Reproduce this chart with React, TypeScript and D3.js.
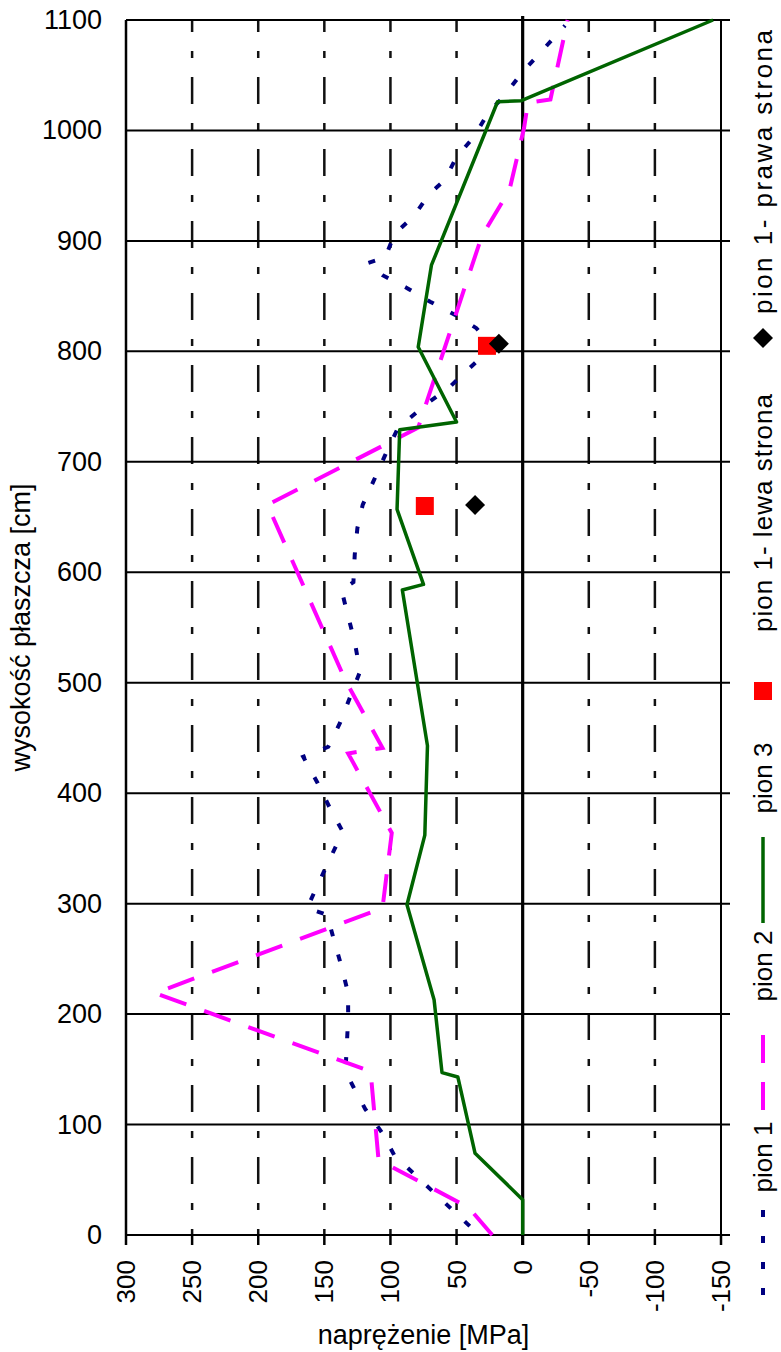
import React from 'react';
import * as d3 from 'd3';

// pion 1 (navy dotted)
const pion1Stress = [40, 97, 106, 119, 128, 134, 133, 132, 132, 137, 142, 148, 163, 155, 146, 136, 146, 155, 166, 147, 138, 123, 127, 132, 137, 128, 127, 125, 121, 113, 104, 95, 87, 72, 55, 40, 23, 35, 51, 70, 87, 106, 117, 104, 97, 82, 71, 59, 50, 37, 26, 15, 0, -13, -32];
const pion1Height = [8, 72, 92, 114, 134, 148, 172, 196, 219, 243, 264, 290, 296, 317, 340, 365, 387, 409, 433, 442, 464, 510, 537, 560, 584, 591, 616, 640, 661, 682, 706, 729, 738, 753, 768, 785, 804, 821, 833, 845, 857, 869, 880, 885, 906, 923, 942, 955, 976, 994, 1016, 1030, 1053, 1070, 1095];

// pion 2 (magenta long dash)
const pion2Stress = [23, 41, 109, 115, 278, 106, 99, 132, 106, 134, 193, 79, 31, 10, -1, -4, -21, -34];
const pion2Height = [0, 25, 68, 148, 219, 296, 364, 436, 441, 502, 661, 731, 904, 946, 1002, 1025, 1028, 1100];

// pion 3 (green solid)
const pion3Stress = [0, 0, 36, 49, 61, 67, 87.5, 74, 72, 91, 75, 95, 93, 50, 79, 69, 19, 1, -144];
const pion3Height = [0, 32, 74, 143, 147, 213, 299, 362, 443, 584, 589, 657, 729, 736, 804, 878, 1026, 1027, 1100];

// pion 1 - lewa strona (red squares)
const lewaStress = [74, 27];
const lewaHeight = [660, 805];

// pion 1 - prawa strona (black diamonds)
const prawaStress = [36, 18];
const prawaHeight = [661, 807];

const xTicks = [300, 250, 200, 150, 100, 50, 0, -50, -100, -150];
const yTicks = [0, 100, 200, 300, 400, 500, 600, 700, 800, 900, 1000, 1100];

const W = 781;
const H = 1352;
const L = 126, R = 721, T = 20, B = 1235;
const FONT = 'Liberation Sans, Arial, sans-serif';

const zip = (a: number[], b: number[]) => a.map((v, i) => [v, b[i]] as [number, number]);

export default function App() {
  const x = d3.scaleLinear().domain([300, -150]).range([L, R]);
  const y = d3.scaleLinear().domain([0, 1100]).range([B, T]);
  const line = d3.line<[number, number]>().x(d => x(d[0])).y(d => y(d[1]));

  const legendX = 763;

  return (
    <svg width={W} height={H} style={{ position: 'absolute', left: 0, top: 0, background: '#fff' }} fontFamily={FONT}>
      <rect x={0} y={0} width={W} height={H} fill="#fff" />
      {/* vertical dash-dot gridlines */}
      {xTicks.filter(v => v !== 0 && v !== 300 && v !== -150).map(v => (
        <line key={'vg' + v} x1={x(v)} x2={x(v)} y1={T} y2={B} stroke="#111" strokeWidth={2.5}
          strokeDasharray="27,19,7,19" strokeDashoffset={15} />
      ))}
      {/* horizontal gridlines (extend right as ticks) */}
      {yTicks.map(v => (
        <line key={'hg' + v} x1={L} x2={R + 9} y1={y(v)} y2={y(v)} stroke="#000" strokeWidth={2} />
      ))}
      {/* borders */}
      <line x1={L} x2={L} y1={T} y2={B} stroke="#000" strokeWidth={2.5} />
      <line x1={R} x2={R} y1={T} y2={B} stroke="#000" strokeWidth={2} />
      {/* bottom ticks */}
      {xTicks.map(v => (
        <line key={'xt' + v} x1={x(v)} x2={x(v)} y1={B} y2={B + 10} stroke="#000" strokeWidth={2.5} />
      ))}
      {/* zero line */}
      <line x1={x(0)} x2={x(0)} y1={T - 4} y2={B + 10} stroke="#000" strokeWidth={3.2} />

      {/* series */}
      <path d={line(zip(pion1Stress, pion1Height)) || ''} fill="none" stroke="#000080" strokeWidth={4}
        strokeDasharray="7,19" />
      <path d={line(zip(pion2Stress, pion2Height)) || ''} fill="none" stroke="#ff00ff" strokeWidth={4}
        strokeDasharray="28,19" />
      <path d={line(zip(pion3Stress, pion3Height)) || ''} fill="none" stroke="#006400" strokeWidth={3.5}
        strokeLinejoin="round" />
      {zip(lewaStress, lewaHeight).map((d, i) => (
        <rect key={'sq' + i} x={x(d[0]) - 9} y={y(d[1]) - 9} width={18} height={18} fill="#ff0000" />
      ))}
      {zip(prawaStress, prawaHeight).map((d, i) => (
        <path key={'dm' + i} d={`M${x(d[0])},${y(d[1]) - 10}L${x(d[0]) + 10},${y(d[1])}L${x(d[0])},${y(d[1]) + 10}L${x(d[0]) - 10},${y(d[1])}Z`} fill="#000" />
      ))}

      {/* y tick labels */}
      {yTicks.map(v => (
        <text key={'yl' + v} x={102} y={y(v)} textAnchor="end" dominantBaseline="central" fontSize={27} fill="#000">{v}</text>
      ))}
      {/* x tick labels (rotated) */}
      {xTicks.map(v => (
        <text key={'xl' + v} transform={`translate(${x(v)},${1260}) rotate(-90)`} textAnchor="end" dominantBaseline="central" fontSize={26} fill="#000">{v}</text>
      ))}
      {/* axis titles */}
      <text x={(L + R) / 2} y={1344} textAnchor="middle" fontSize={27} fill="#000">naprężenie [MPa]</text>
      <text transform={`translate(30,${(T + B) / 2}) rotate(-90)`} textAnchor="middle" fontSize={27} fill="#000">wysokość płaszcza [cm]</text>

      {/* legend (rotated, reading bottom to top) */}
      <line x1={legendX} x2={legendX} y1={1295} y2={1207} stroke="#000080" strokeWidth={4} strokeDasharray="7,19" />
      <text transform={`translate(772,1157) rotate(-90)`} textAnchor="middle" fontSize={26} fill="#000">pion 1</text>
      <line x1={legendX} x2={legendX} y1={1110} y2={1024} stroke="#ff00ff" strokeWidth={4} strokeDasharray="28,19" />
      <text transform={`translate(772,966) rotate(-90)`} textAnchor="middle" fontSize={26} fill="#000">pion 2</text>
      <line x1={legendX} x2={legendX} y1={923} y2={837} stroke="#006400" strokeWidth={3.5} />
      <text transform={`translate(772,778) rotate(-90)`} textAnchor="middle" fontSize={26} fill="#000">pion 3</text>
      <rect x={legendX - 9} y={682} width={18} height={18} fill="#ff0000" />
      <text transform={`translate(772,513) rotate(-90)`} textAnchor="middle" fontSize={26} fill="#000"
        textLength={238} lengthAdjust="spacing">pion 1- lewa strona</text>
      <path d={`M${legendX},328L${legendX + 10},338L${legendX},348L${legendX - 10},338Z`} fill="#000" />
      <text transform={`translate(772,172) rotate(-90)`} textAnchor="middle" fontSize={26} fill="#000"
        textLength={284} lengthAdjust="spacing">pion 1- prawa strona</text>
    </svg>
  );
}
